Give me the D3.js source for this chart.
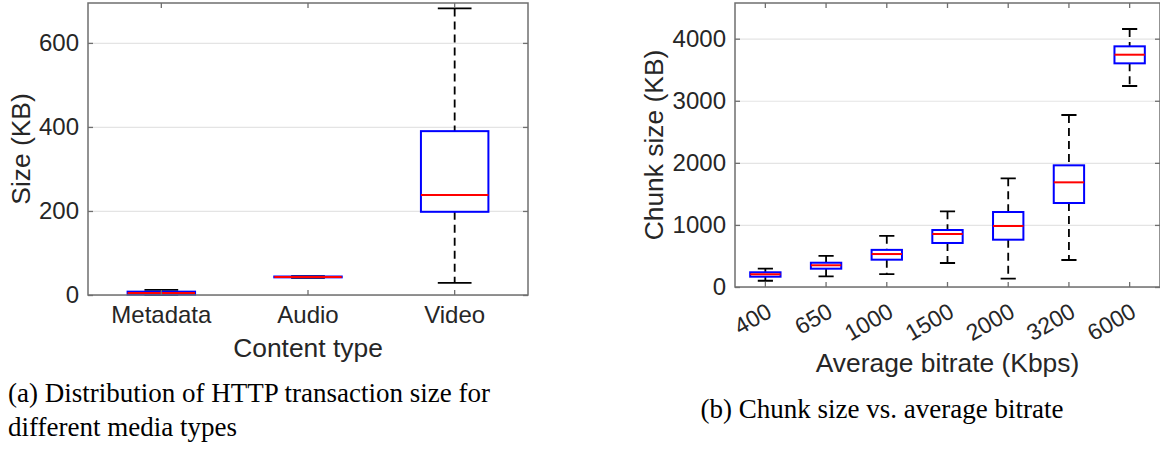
<!DOCTYPE html>
<html>
<head>
<meta charset="utf-8">
<script src="https://cdn.jsdelivr.net/npm/d3@7"></script>
<style>
  body { margin: 0; background: #fff; }
  svg text { font-family: "Liberation Sans", Arial, sans-serif; }
  svg text.caption { font-family: "Liberation Serif", "Times New Roman", serif; }
</style>
</head>
<body>
<svg id="fig" width="1160" height="450"></svg>
<script>
// (a) transaction size per content type, KB
const contentTypes = ['Metadata', 'Audio', 'Video'];
const sizeMin = [0, 41, 29];
const sizeQ1 = [1, 42, 198];
const sizeMed = [5, 43, 238];
const sizeQ3 = [8, 44, 390];
const sizeMax = [12, 45, 682];
const sizeTicks = [0, 200, 400, 600];

// (b) chunk size per bitrate, KB
const bitrates = ['400', '650', '1000', '1500', '2000', '3200', '6000'];
const chunkMin = [101, 172, 209, 387, 134, 435, 3238];
const chunkQ1 = [166, 295, 440, 709, 762, 1353, 3603];
const chunkMed = [205, 350, 531, 854, 983, 1686, 3742];
const chunkQ3 = [237, 391, 598, 918, 1208, 1960, 3877];
const chunkMax = [295, 500, 824, 1219, 1751, 2771, 4156];
const chunkTicks = [0, 1000, 2000, 3000, 4000];

const svg = d3.select('#fig');
const axisColor = '#6f6f6f';
const textColor = '#262626';

// draws one MATLAB-looking boxplot panel
function boxPanel(opt) {
    const w = opt.right - opt.left;
    const h = opt.bottom - opt.top;
    const g = svg.append('g').attr('transform', `translate(${opt.left},${opt.top})`);

    const x = d3.scaleBand().domain(opt.cats).range([0, w]).padding(0);
    const y = d3.scaleLinear().domain(opt.yDomain).range([h, 0]);

    // horizontal grid
    g.append('g')
        .call(d3.axisLeft(y).tickValues(opt.yTicks).tickSize(-w).tickFormat(''))
        .call(s => s.select('.domain').remove())
        .call(s => s.selectAll('line').attr('stroke', '#e4e4e4').attr('stroke-width', 1.2));

    const bw = x.bandwidth() * opt.boxFrac;
    const cx = d => x(opt.cats[d]) + x.bandwidth() / 2;
    const idx = d3.range(opt.cats.length);

    // whiskers
    g.selectAll('.whisk').data(idx).enter().append('path')
        .attr('d', i => `M${cx(i)},${y(opt.max[i])}V${y(opt.q3[i])}M${cx(i)},${y(opt.q1[i])}V${y(opt.min[i])}`)
        .attr('stroke', '#000').attr('stroke-width', 1.8).attr('stroke-dasharray', '8,5').attr('fill', 'none');
    // caps
    g.selectAll('.cap').data(idx).enter().append('path')
        .attr('d', i => `M${cx(i) - bw / 4},${y(opt.max[i])}H${cx(i) + bw / 4}M${cx(i) - bw / 4},${y(opt.min[i])}H${cx(i) + bw / 4}`)
        .attr('stroke', '#000').attr('stroke-width', 1.8);
    // boxes
    g.selectAll('.box').data(idx).enter().append('rect')
        .attr('x', i => cx(i) - bw / 2)
        .attr('y', i => y(opt.q3[i]))
        .attr('width', bw)
        .attr('height', i => Math.max(0.5, y(opt.q1[i]) - y(opt.q3[i])))
        .attr('fill', 'none').attr('stroke', '#0000ff').attr('stroke-width', 2);
    // medians
    g.selectAll('.med').data(idx).enter().append('line')
        .attr('x1', i => cx(i) - bw / 2).attr('x2', i => cx(i) + bw / 2)
        .attr('y1', i => y(opt.med[i])).attr('y2', i => y(opt.med[i]))
        .attr('stroke', '#ff0000').attr('stroke-width', 2);

    // frame
    g.append('rect').attr('width', w).attr('height', h)
        .attr('fill', 'none').attr('stroke', axisColor).attr('stroke-width', 1.5);

    const style = s => {
        s.select('.domain').remove();
        s.selectAll('line').attr('stroke', axisColor).attr('stroke-width', 1.3);
        s.selectAll('text').attr('fill', textColor).style('font-size', '24px');
    };

    g.append('g').call(d3.axisLeft(y).tickValues(opt.yTicks).tickSize(-5).tickPadding(9).tickFormat(d3.format('d'))).call(style);
    g.append('g').attr('transform', `translate(${w},0)`)
        .call(d3.axisRight(y).tickValues(opt.yTicks).tickSize(-5).tickFormat('')).call(style);
    g.append('g').call(d3.axisTop(x).tickSize(-5).tickFormat('')).call(style);
    const xa = g.append('g').attr('transform', `translate(0,${h})`)
        .call(d3.axisBottom(x).tickSize(-5).tickPadding(11)).call(style);

    if (opt.rotate) {
        // MATLAB-style 30 degree labels hanging off the tick
        xa.selectAll('text')
            .attr('x', 0).attr('y', 0).attr('dy', 0)
            .attr('text-anchor', 'end')
            .style('font-size', '23px')
            .attr('transform', 'translate(8,29) rotate(-30)');
    }

    // axis titles
    g.append('text')
        .attr('transform', `translate(${opt.yLabelX},${h / 2}) rotate(-90)`)
        .attr('text-anchor', 'middle').attr('fill', textColor).style('font-size', '26.4px')
        .text(opt.yLabel);
    g.append('text')
        .attr('x', w / 2).attr('y', h + opt.xLabelY)
        .attr('text-anchor', 'middle').attr('fill', textColor).style('font-size', '26.4px')
        .text(opt.xLabel);
}

boxPanel({
    left: 88, right: 528, top: 3, bottom: 295,
    cats: contentTypes, min: sizeMin, q1: sizeQ1, med: sizeMed, q3: sizeQ3, max: sizeMax,
    yDomain: [0, 695], yTicks: sizeTicks, boxFrac: 0.46,
    yLabel: 'Size (KB)', yLabelX: -58, xLabel: 'Content type', xLabelY: 62
});

boxPanel({
    left: 735, right: 1160, top: 3, bottom: 287,
    cats: bitrates, min: chunkMin, q1: chunkQ1, med: chunkMed, q3: chunkQ3, max: chunkMax,
    yDomain: [0, 4575], yTicks: chunkTicks, boxFrac: 0.5, rotate: true,
    yLabel: 'Chunk size (KB)', yLabelX: -72, xLabel: 'Average bitrate (Kbps)', xLabelY: 85
});

// sub-figure captions
svg.append('text').attr('class', 'caption').attr('x', 8).attr('y', 402)
    .style('font-size', '27px').attr('fill', '#000')
    .text('(a) Distribution of HTTP transaction size for');
svg.append('text').attr('class', 'caption').attr('x', 8).attr('y', 436)
    .style('font-size', '27px').attr('fill', '#000')
    .text('different media types');
svg.append('text').attr('class', 'caption').attr('x', 882).attr('y', 418)
    .attr('text-anchor', 'middle')
    .style('font-size', '27px').attr('fill', '#000')
    .text('(b) Chunk size vs. average bitrate');
</script>
</body>
</html>
